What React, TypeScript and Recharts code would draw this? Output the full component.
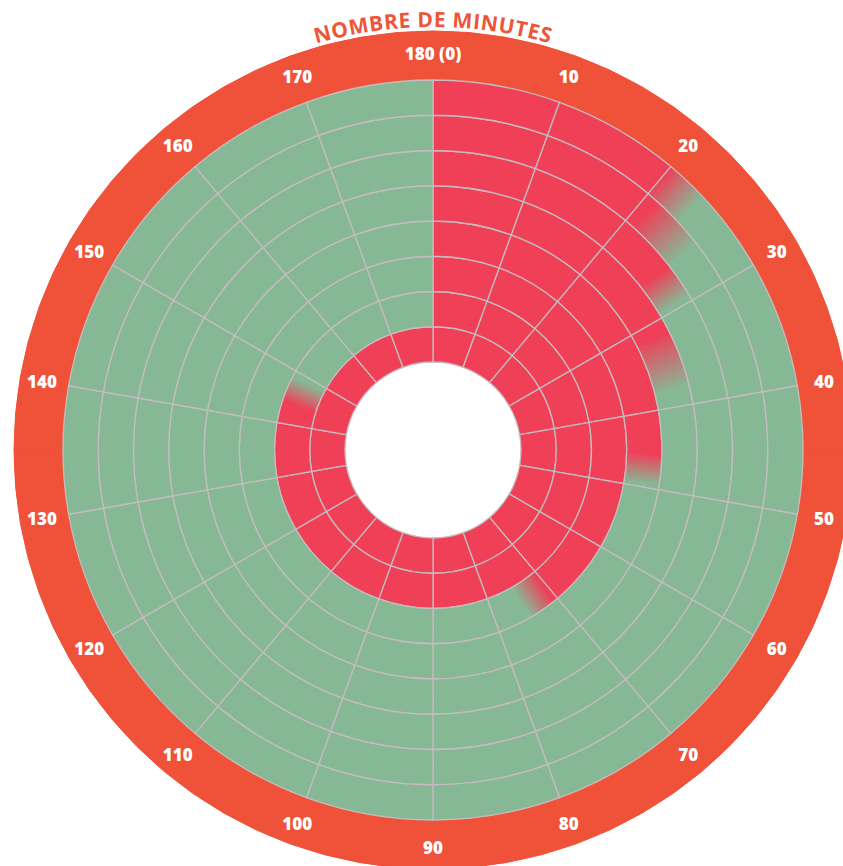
import React from 'react';
import { PieChart, Pie, Cell, Customized } from 'recharts';

// ---- data ----
const minuteLabels = ['180 (0)', '10', '20', '30', '40', '50', '60', '70', '80', '90', '100', '110', '120', '130', '140', '150', '160', '170'];
const sectorStarts = [0, 10, 20, 30, 40, 50, 60, 70, 80, 90, 100, 110, 120, 130, 140, 150, 160, 170];
// number of fully red rings (from the centre) in each 10-minute sector
const redRings = [8, 8, 5, 4, 3, 3, 3, 2, 2, 2, 2, 2, 2, 2, 1, 1, 1, 1];
// blended cells: sector index, ring number, minute where red fades out -> minute where it is green
const blendSector = [2, 2, 2, 3, 4, 7, 14];
const blendRing = [8, 7, 6, 5, 4, 3, 2];
const blendFrom = [20, 21, 26, 31.5, 45.5, 70.5, 144];
const blendTo = [23.5, 26, 29.5, 38, 49.5, 75, 149];
const ringNumbers = [1, 2, 3, 4, 5, 6, 7, 8];
const TITLE = 'NOMBRE DE MINUTES';

// ---- layout / style ----
const W = 843;
const H = 866;
const CX = 433;
const CY = 450;
const INNER = 88;
const RING = 35.25;
const OUTER = INNER + RING * ringNumbers.length;
const ORANGE_OUT = 419;
const LABEL_R = 397;
const TITLE_R = 423;
const RED = '#EF4058';
const GREEN = '#87B896';
const ORANGE = '#F05139';
const GRID = '#C6BBBE';
const FONT = '"Open Sans", "DejaVu Sans", sans-serif';

const sectorData = sectorStarts.map((m) => ({ name: String(m), value: 1 }));
const labelData = minuteLabels.map((l) => ({ name: l, value: 1 }));

const pt = (minute: number, r: number) => {
  const a = (minute * 2 * Math.PI) / 180;
  return { x: CX + r * Math.sin(a), y: CY - r * Math.cos(a) };
};

const cellFill = (s: number, ring: number) => {
  const b = blendSector.findIndex((x, k) => x === s && blendRing[k] === ring);
  if (b >= 0) return `url(#blend-${b})`;
  return ring <= redRings[s] ? RED : GREEN;
};

const Extras = () => {
  const th = (46 * Math.PI) / 180;
  const d = `M ${CX - TITLE_R * Math.sin(th)} ${CY - TITLE_R * Math.cos(th)} A ${TITLE_R} ${TITLE_R} 0 0 1 ${CX + TITLE_R * Math.sin(th)} ${CY - TITLE_R * Math.cos(th)}`;
  return (
    <g>
      <defs>
        {blendSector.map((s, k) => {
          const rm = INNER + RING * (blendRing[k] - 0.5);
          const p1 = pt(blendFrom[k], rm);
          const p2 = pt(blendTo[k], rm);
          return (
            <linearGradient key={k} id={`blend-${k}`} gradientUnits="userSpaceOnUse" x1={p1.x} y1={p1.y} x2={p2.x} y2={p2.y}>
              <stop offset="0" stopColor={RED} />
              <stop offset="1" stopColor={GREEN} />
            </linearGradient>
          );
        })}
        <path id="titleArc" d={d} />
      </defs>
      <text fill="#EE5538" fontSize={21} fontWeight={700} fontFamily={FONT} letterSpacing={0.6}>
        <textPath href="#titleArc" startOffset="50%" textAnchor="middle">
          {TITLE}
        </textPath>
      </text>
    </g>
  );
};

const renderLabel = (props: any) => {
  const { midAngle, index } = props;
  const cx = props.cx ?? CX;
  const cy = props.cy ?? CY;
  const a = (-midAngle * Math.PI) / 180;
  const x = cx + LABEL_R * Math.cos(a);
  const y = cy + LABEL_R * Math.sin(a);
  return (
    <text key={`lbl-${index}`} x={x} y={y} textAnchor="middle" dominantBaseline="central" fill="#FFFFFF" fontFamily={FONT} fontWeight={800} fontSize={17}>
      {minuteLabels[index]}
    </text>
  );
};

export default function App() {
  return (
    <div style={{ position: 'absolute', left: 0, top: 0, width: W, height: H, background: '#fff' }}>
      <PieChart width={W} height={H} margin={{ top: 0, right: 0, bottom: 0, left: 0 }}>
        <Customized component={Extras} />
        <Pie
          data={labelData}
          dataKey="value"
          cx={CX}
          cy={CY}
          innerRadius={OUTER}
          outerRadius={ORANGE_OUT}
          startAngle={100}
          endAngle={-260}
          isAnimationActive={false}
          label={renderLabel}
          labelLine={false}
        >
          {labelData.map((_, i) => (
            <Cell key={i} fill={ORANGE} stroke={ORANGE} strokeWidth={1} />
          ))}
        </Pie>
        {ringNumbers.map((ring) => (
          <Pie
            key={ring}
            data={sectorData}
            dataKey="value"
            cx={CX}
            cy={CY}
            innerRadius={INNER + RING * (ring - 1)}
            outerRadius={INNER + RING * ring}
            startAngle={90}
            endAngle={-270}
            isAnimationActive={false}
          >
            {sectorData.map((_, s) => (
              <Cell key={s} fill={cellFill(s, ring)} stroke={GRID} strokeWidth={1.3} />
            ))}
          </Pie>
        ))}
      </PieChart>
    </div>
  );
}
